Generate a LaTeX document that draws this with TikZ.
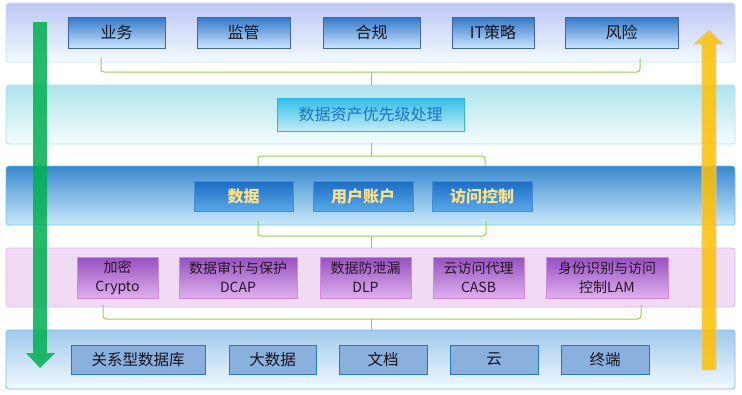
\documentclass[tikz,border=0pt]{standalone}
\usepackage{fontspec}
\setmainfont{Noto Sans CJK SC}
\definecolor{bracketgreen}{RGB}{146,208,80}
\definecolor{arrowgreen}{RGB}{0,176,80}
\definecolor{arrowyellow}{RGB}{255,192,0}
\begin{document}
\begin{tikzpicture}[x=1pt,y=-1pt,
  band/.style={draw, line width=0.8pt, rounded corners=3pt, anchor=north west, inner sep=0pt, outer sep=0pt, minimum width=729pt, minimum height=59pt},
  boxbase/.style={draw, line width=1pt, anchor=north west, inner sep=0pt, outer sep=0pt, align=center},
  topbox/.style={boxbase, top color={rgb,255:red,52;green,120;blue,200}, bottom color={rgb,255:red,200;green,228;blue,252}, draw={rgb,255:red,60;green,100;blue,170}, font=\fontsize{16}{19}\selectfont, text={rgb,255:red,20;green,20;blue,30}, minimum height=31pt},
  midbox/.style={boxbase, top color={rgb,255:red,50;green,190;blue,228}, bottom color={rgb,255:red,196;green,236;blue,246}, draw={rgb,255:red,40;green,180;blue,230}, font=\fontsize{16}{19}\selectfont, text={rgb,255:red,30;green,115;blue,195}, minimum height=33pt},
  datbox/.style={boxbase, top color={rgb,255:red,28;green,108;blue,196}, bottom color={rgb,255:red,90;green,168;blue,232}, draw={rgb,255:red,70;green,140;blue,210}, font=\fontsize{16}{19}\selectfont\bfseries, text={rgb,255:red,250;green,226;blue,140}, minimum height=30pt},
  secbox/.style={boxbase, top color={rgb,255:red,150;green,80;blue,190}, bottom color={rgb,255:red,222;green,176;blue,238}, draw={rgb,255:red,212;green,132;blue,226}, font=\fontsize{14}{19}\selectfont, text={rgb,255:red,40;green,20;blue,40}, minimum height=41pt},
  srcbox/.style={boxbase, fill={rgb,255:red,140;green,176;blue,222}, draw={rgb,255:red,30;green,120;blue,200}, font=\fontsize{15.5}{18}\selectfont, text={rgb,255:red,20;green,20;blue,30}, minimum height=29pt},
  bracket/.style={draw=bracketgreen, line width=1pt, rounded corners=3pt}
]
\useasboundingbox (0,0) rectangle (742,394);
\fill[white] (0,0) rectangle (742,394);

% bands
\node[band, top color={rgb,255:red,190;green,198;blue,244}, bottom color={rgb,255:red,242;green,250;blue,255}, draw={rgb,255:red,190;green,232;blue,248}] (b1) at (6,3) {};
\node[band, top color={rgb,255:red,174;green,228;blue,236}, bottom color={rgb,255:red,244;green,252;blue,254}, draw={rgb,255:red,170;green,226;blue,242}] (b2) at (6,85) {};
\node[band, top color={rgb,255:red,56;green,136;blue,206}, bottom color={rgb,255:red,204;green,234;blue,250}, draw={rgb,255:red,100;green,200;blue,240}] (b3) at (6,166) {};
\node[band, fill={rgb,255:red,240;green,218;blue,244}, draw={rgb,255:red,222;green,186;blue,232}] (b4) at (6,248) {};
\node[band, top color={rgb,255:red,160;green,202;blue,236}, bottom color={rgb,255:red,242;green,250;blue,255}, draw={rgb,255:red,120;green,192;blue,236}] (b5) at (6,330) {};

% big arrows
\fill[arrowgreen, opacity=0.85] (33,22) -- (47,22) -- (47,353) -- (55,353) -- (40,368) -- (26,353) -- (33,353) -- cycle;
\filldraw[fill=arrowyellow, draw={rgb,255:red,205;green,205;blue,205}, line width=0.8pt, fill opacity=0.85] (702,370) -- (702,44) -- (694,44) -- (709,30) -- (723,44) -- (716,44) -- (716,370) -- cycle;

% top row
\node[topbox, minimum width=97pt] (yw) at (68,17) {业务};
\node[topbox, minimum width=93pt] (jg) at (197,17) {监管};
\node[topbox, minimum width=97pt] (hg) at (323,17) {合规};
\node[topbox, minimum width=82pt] (it) at (452,17) {IT策略};
\node[topbox, minimum width=113pt] (fx) at (565,17) {风险};

% middle
\node[midbox, minimum width=187pt] (yx) at (277,98) {数据资产优先级处理};

% data row
\node[datbox, minimum width=99pt] (sj) at (194,181) {数据};
\node[datbox, minimum width=100pt] (yh) at (313,181) {用户账户};
\node[datbox, minimum width=100pt] (fw) at (432,181) {访问控制};

% security row
\node[secbox, minimum width=81pt] (jm) at (77,257) {加密\\Crypto};
\node[secbox, minimum width=118pt] (dcap) at (179,257) {数据审计与保护\\DCAP};
\node[secbox, minimum width=91pt] (dlp) at (320,257) {数据防泄漏\\DLP};
\node[secbox, minimum width=91pt] (casb) at (433,257) {云访问代理\\CASB};
\node[secbox, minimum width=122pt] (lam) at (546,257) {身份识别与访问\\控制LAM};

% source row
\node[srcbox, minimum width=134pt] (gx) at (71,345) {关系型数据库};
\node[srcbox, minimum width=87pt] (ds) at (229,345) {大数据};
\node[srcbox, minimum width=88pt] (wd) at (339,345) {文档};
\node[srcbox, minimum width=88pt] (yun) at (450,345) {云};
\node[srcbox, minimum width=88pt] (zd) at (561,345) {终端};

% brackets
\coordinate (k1l) at (101,58); \coordinate (k1r) at (640,58);
\coordinate (k1c) at (371,72); \coordinate (k1e) at (371,85);
\draw[bracket] (k1l) -- (101,72) -- (640,72) -- (k1r);
\draw[bracket] (k1c) -- (k1e);

\coordinate (k2s) at (371,143); \coordinate (k2c) at (371,156);
\coordinate (k2l) at (258,166); \coordinate (k2r) at (485,166);
\draw[bracket] (k2s) -- (k2c);
\draw[bracket] (k2l) -- (258,156) -- (485,156) -- (k2r);

\coordinate (k3l) at (258,221); \coordinate (k3r) at (486,221);
\coordinate (k3c) at (371,236); \coordinate (k3e) at (371,248);
\draw[bracket] (k3l) -- (258,236) -- (486,236) -- (k3r);
\draw[bracket] (k3c) -- (k3e);

\coordinate (k4l) at (103,305); \coordinate (k4r) at (641,305);
\coordinate (k4c) at (371,319); \coordinate (k4e) at (371,330);
\draw[bracket] (k4l) -- (103,319) -- (641,319) -- (k4r);
\draw[bracket] (k4c) -- (k4e);
\end{tikzpicture}
\end{document}
